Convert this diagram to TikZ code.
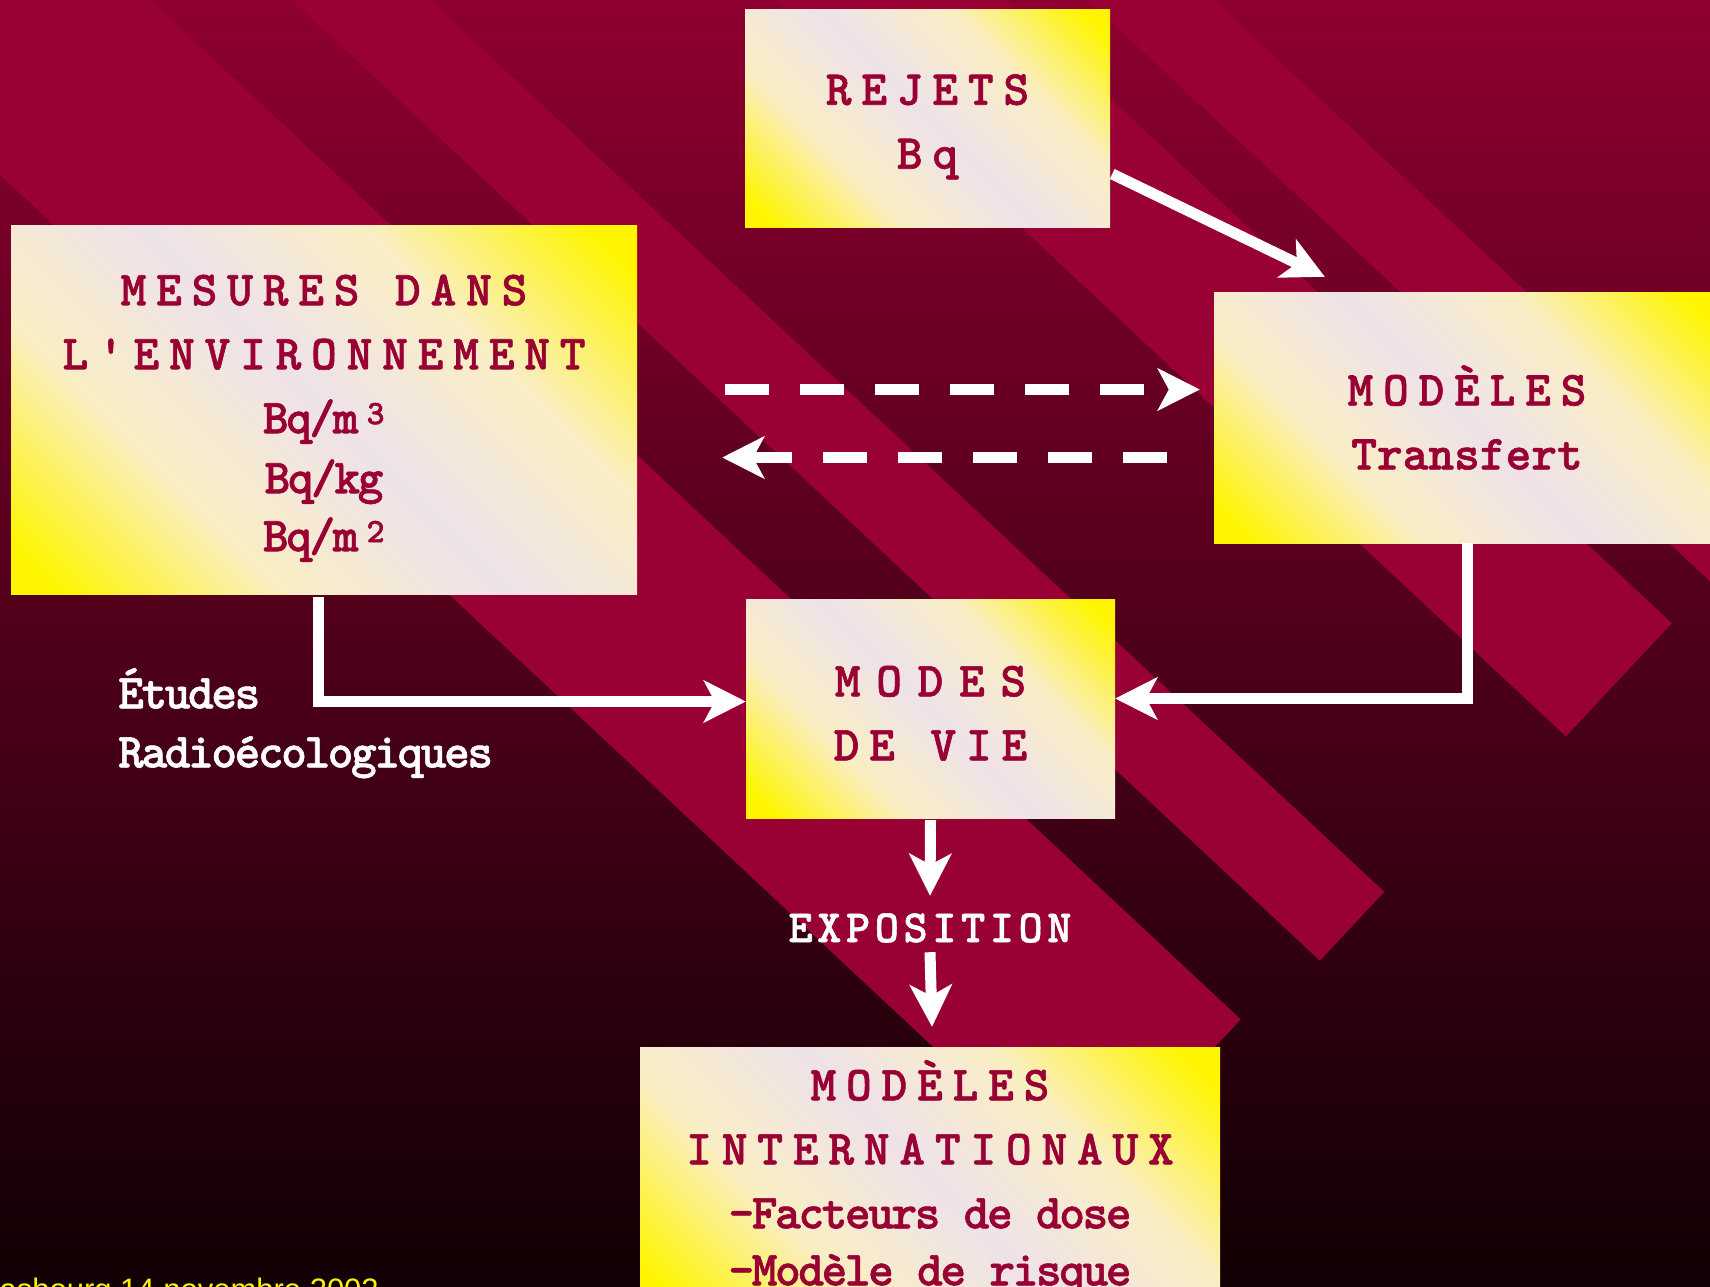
\documentclass[tikz,border=0pt]{standalone}
\usepackage{fontspec}
\usepackage{tikz}
\usetikzlibrary{arrows.meta}
\definecolor{figR}{RGB}{153,0,51}
\definecolor{bgTop}{RGB}{142,0,48}
\definecolor{bgMid}{RGB}{74,0,26}
\definecolor{bgBot}{RGB}{16,0,4}
\definecolor{boxY}{RGB}{255,245,0}
\definecolor{boxC}{RGB}{250,238,196}
\definecolor{boxW}{RGB}{238,226,234}
\newfontfamily\capfont{lmmonolt10-bold.otf}[LetterSpace=20, FakeBold=1.2]
\newfontfamily\lowfont{lmmonolt10-bold.otf}[LetterSpace=-5, FakeBold=1.2]
\newfontfamily\expofont{lmmonolt10-bold.otf}[LetterSpace=10, FakeBold=1.2]
\newfontfamily\datefont{Liberation Sans}
\pgfdeclarehorizontalshading{boxfill}{100bp}{color(0bp)=(boxY); color(18bp)=(boxY);
  color(34bp)=(boxC); color(50bp)=(boxW); color(66bp)=(boxC); color(82bp)=(boxY); color(100bp)=(boxY)}
\tikzset{flowbox/.style={shade, shading=boxfill, shading angle=45, inner sep=0, align=center,
  text=figR, font=\capfont\fontsize{49}{64}\selectfont},
  arr/.style={draw=white, line width=11pt, -{Stealth[length=42pt, width=42pt, inset=11pt]}},
  dasharr/.style={arr, dash pattern=on 44pt off 31pt}}

\begin{document}
\begin{tikzpicture}[x=1pt, y=-1pt]
\clip (0,0) rectangle (1710,1286);
% background and stripes
\shade[top color=bgTop, middle color=bgMid, bottom color=bgBot] (0,0) rectangle (1710,1286);
\foreach \ca/\cb/\s in {-187/150/2347, 292/430/2373, 778/1005/2412, 1088/1214/2440}
  \fill[figR] ({\ca-21.4},-20) -- ({\cb-21.4},-20)
    -- ({\cb+1.07*(\s-1.07*\cb)/2.145},{(\s-1.07*\cb)/2.145})
    -- ({\ca+1.07*(\s-1.07*\ca)/2.145},{(\s-1.07*\ca)/2.145}) -- cycle;
% boxes
\node[flowbox, minimum width=365, minimum height=218] (rejets) at (927.5,118) {\rule{0pt}{48pt}REJETS\\Bq};
\node[flowbox, minimum width=626, minimum height=369] (mesures) at (324,409.5)
  {\rule{0pt}{48pt}MESURES DANS\\L'ENVIRONNEMENT\\{\lowfont Bq/m\,\textsuperscript{3}}\\[-4pt]{\lowfont Bq/kg}\\[-6pt]{\lowfont Bq/m\,\textsuperscript{2}}};
\node[flowbox, minimum width=506, minimum height=251] (transfert) at (1467,417.5)
  {MODÈLES\\{\lowfont\addfontfeature{LetterSpace=0} Transfert}};
\node[flowbox, minimum width=369, minimum height=219] (modes) at (930.5,708.5)
  {\rule{0pt}{40pt}{\addfontfeature{LetterSpace=32}MODES}\\DE VIE};
\node[flowbox, minimum width=580, minimum height=262] (inter) at (930,1178)
  {MODÈLES\\INTERNATIONAUX\\{\lowfont -Facteurs de dose}\\[-7pt]{\lowfont -Modèle de risque}};
% labels
\node[anchor=north west, align=left, inner sep=0, text=white, font=\lowfont\fontsize{49}{59}\selectfont]
  (etudes) at (118,668) {Études\\Radioécologiques};
\node[inner sep=0, text height=28pt, text depth=0pt, text=white, font=\expofont\fontsize{46}{46}\selectfont]
  (expo) at (930,928) {EXPOSITION};
\node[anchor=base east, inner sep=0, text=yellow, font=\datefont\fontsize{31}{36}\selectfont]
  (date) at (379,1300) {Strasbourg 14 novembre 2002};
% connectors
\draw[arr] ([shift={(2,56)}]rejets.east) -- ([shift={(111,-15)}]transfert.north west);
\draw[dasharr] ([shift={(88,-20)}]mesures.east) -- ([shift={(-14,-28)}]transfert.west);
\draw[dasharr] ([shift={(-47,40)}]transfert.west) -- ([shift={(85,48)}]mesures.east);
\draw[arr] ([shift={(-6,3)}]mesures.south) |- ([shift={(0,-7)}]modes.west);
\draw[arr] (transfert.south) |- ([shift={(0,-10)}]modes.east);
\draw[arr] ([shift={(0,2)}]modes.south) -- ([shift={(0,-18)}]expo.north);
\draw[arr] ([shift={(0,10)}]expo.south) -- ([shift={(2,-20)}]inter.north);
\end{tikzpicture}
\end{document}
